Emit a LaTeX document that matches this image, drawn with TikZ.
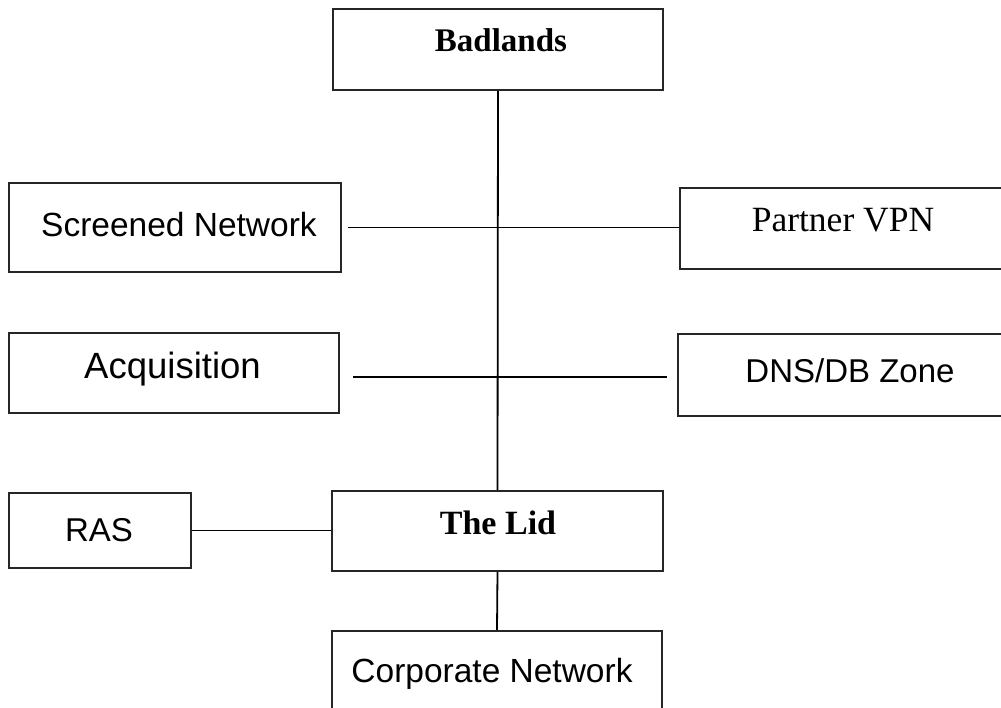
\documentclass[tikz,border=0pt]{standalone}
\usepackage{fontspec}
\setmainfont{Liberation Serif}
\setsansfont{Liberation Sans}
\begin{document}
\begin{tikzpicture}[x=1pt,y=-1pt,
  box/.style={draw=black!85,line width=1.8pt,rectangle,inner sep=0pt,fill=none},
  link/.style={draw=black,line width=1.8pt},
  serifb/.style={font=\fontsize{33}{36}\selectfont\bfseries,anchor=base,inner sep=0pt},
  serifr/.style={font=\fontsize{35.5}{38}\selectfont,anchor=base,inner sep=0pt},
  sansr/.style={font=\sffamily\fontsize{33}{36}\selectfont,anchor=base,inner sep=0pt}]
\clip (0,0) rectangle (1001,708);
\fill[white] (0,0) rectangle (1001,708);
% boxes
\node[box,minimum width=330pt,minimum height=81pt] (bad) at (498,49.5) {};
\node[box,minimum width=332pt,minimum height=89pt] (scr) at (175,227.5) {};
\node[box,minimum width=324pt,minimum height=81pt] (pvpn) at (842,228.5) {};
\node[box,minimum width=330pt,minimum height=80pt] (acq) at (174,373) {};
\node[box,minimum width=326pt,minimum height=82pt] (dns) at (841,375) {};
\node[box,minimum width=182pt,minimum height=75pt] (ras) at (100,530.5) {};
\node[box,minimum width=331pt,minimum height=80pt] (lid) at (497.5,531) {};
\node[box,minimum width=330pt,minimum height=82pt] (corp) at (497,672) {};
% texts
\node[serifb] at (501,52) {Badlands};
\node[sansr,font=\sffamily\fontsize{33.5}{36}\selectfont] at (179,237) {Screened Network};
\node[serifr] at (843,232) {Partner VPN};
\node[sansr,font=\sffamily\fontsize{36.5}{40}\selectfont] at (172.5,378) {Acquisition};
\node[sansr] at (850,383) {DNS/DB Zone};
\node[sansr] at (99,541) {RAS};
\node[serifb,font=\fontsize{34}{37}\selectfont\bfseries] at (498,534) {The Lid};
\node[sansr,font=\sffamily\fontsize{33.5}{36}\selectfont] at (492,682) {Corporate Network};
% connectors
\coordinate (scrEnd) at ([xshift=6pt]scr.east);
\coordinate (acqEnd) at ([xshift=13pt]acq.east |- 0,377);
\coordinate (dnsEnd) at ([xshift=-10pt]dns.west |- 0,377);
\draw[link] (bad.south) -- (lid.north);
\draw[link] (lid.south) -- (corp.north);
\draw[link] (scrEnd) -- (pvpn.west |- scrEnd);
\draw[link] (acqEnd) -- (dnsEnd);
\draw[link] (ras.east) -- (lid.west |- ras.east);
\end{tikzpicture}
\end{document}
